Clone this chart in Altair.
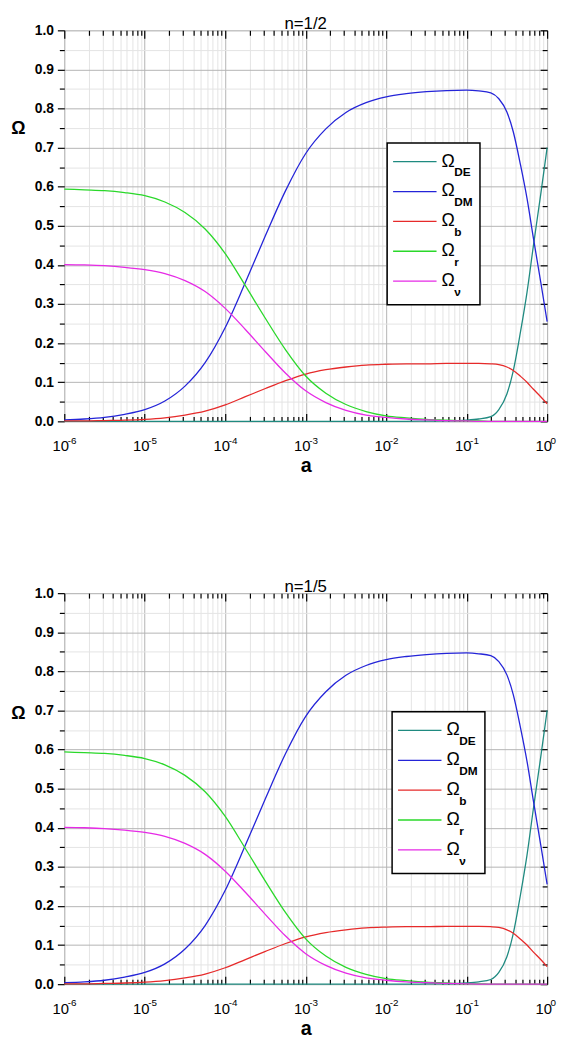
import altair as alt
import pandas as pd

# ---------------- data ----------------
log_a = [-6, -5.75, -5.5, -5.25, -5, -4.75, -4.5, -4.25, -4, -3.75, -3.5, -3.25,
         -3, -2.75, -2.5, -2.25, -2, -1.75, -1.5, -1.25, -1, -0.85, -0.7, -0.6,
         -0.5, -0.42, -0.33, -0.25, -0.17, -0.08, 0]
omega_de = [0, 0, 0, 0, 0, 0, 0, 0, 0, 0, 0, 0,
            0, 0, 0, 0, 0, 0, 0.0005, 0.001, 0.003, 0.006, 0.012, 0.030,
            0.070, 0.130, 0.230, 0.330, 0.450, 0.580, 0.700]
omega_dm = [0.004, 0.006, 0.010, 0.018, 0.030, 0.052, 0.090, 0.150, 0.240, 0.355, 0.475, 0.590,
            0.685, 0.748, 0.790, 0.815, 0.830, 0.838, 0.843, 0.846, 0.847, 0.845, 0.840, 0.825,
            0.791, 0.740, 0.655, 0.570, 0.468, 0.357, 0.255]
omega_b = [0.001, 0.001, 0.002, 0.003, 0.005, 0.009, 0.016, 0.026, 0.042, 0.063, 0.084, 0.104,
           0.121, 0.132, 0.139, 0.144, 0.146, 0.147, 0.147, 0.148, 0.148, 0.148, 0.147, 0.145,
           0.139, 0.130, 0.115, 0.100, 0.082, 0.063, 0.045]
omega_r = [0.594, 0.592, 0.590, 0.585, 0.577, 0.561, 0.534, 0.492, 0.429, 0.347, 0.263, 0.183,
           0.116, 0.072, 0.043, 0.025, 0.014, 0.009, 0.005, 0.003, 0.001, 0.001, 0, 0,
           0, 0, 0, 0, 0, 0, 0]
omega_nu = [0.401, 0.400, 0.398, 0.394, 0.388, 0.378, 0.360, 0.332, 0.289, 0.235, 0.178, 0.123,
            0.078, 0.048, 0.028, 0.016, 0.010, 0.006, 0.004, 0.002, 0.001, 0, 0, 0,
            0, 0, 0, 0, 0, 0, 0]

series_keys = ["DE", "DM", "b", "r", "nu"]
series_subs = ["DE", "DM", "b", "r", "\u03bd"]
series_colors = ["#1f8a80", "#2424d8", "#e62a2a", "#2ad82a", "#e62ae6"]

x_major = [1e-6, 1e-5, 1e-4, 1e-3, 1e-2, 1e-1, 1.0]
x_exp_labels = ["-6", "-5", "-4", "-3", "-2", "-1", "0"]
x_minor = [m * d for d in x_major[:-1] for m in range(2, 10)]
y_major = [0.0, 0.1, 0.2, 0.3, 0.4, 0.5, 0.6, 0.7, 0.8, 0.9, 1.0]
y_minor = [0.05, 0.15, 0.25, 0.35, 0.45, 0.55, 0.65, 0.75, 0.85, 0.95]

panel_titles = ["n=1/2", "n=1/5"]

# ---------------- tables ----------------
cols = {"DE": omega_de, "DM": omega_dm, "b": omega_b, "r": omega_r, "nu": omega_nu}
rows = []
for k in series_keys:
    for e, v in zip(log_a, cols[k]):
        rows.append({"series": k, "a": 10 ** e, "omega": v})
df = pd.DataFrame(rows)

leg_df = pd.DataFrame({"series": series_keys, "sub": series_subs,
                       "i": list(range(len(series_keys)))})

# ---------------- style ----------------
FONT = "Liberation Sans"
W, H = 489, 396
GRID_MAJOR = "#b4b4b4"
GRID_MINOR = "#e4e4e4"
xs = alt.Scale(type="log", domain=[x_major[0], x_major[-1]], nice=False)
ys = alt.Scale(domain=[y_major[0], y_major[-1]], nice=False, zero=False)
cscale = alt.Scale(domain=series_keys, range=series_colors)

exp_parts = [f"datum.value < {v * 3} ? '{lab}'" for v, lab in zip(x_major[:-1], x_exp_labels[:-1])]
exp_expr = " : ".join(exp_parts) + f" : '{x_exp_labels[-1]}'"

NOAX = dict(labels=False, domain=False, grid=False, title=None, minExtent=0)


def holder(xaxis, yaxis):
    return alt.Chart(df).mark_line(opacity=0).encode(
        x=alt.X("a:Q", scale=xs, axis=xaxis),
        y=alt.Y("omega:Q", scale=ys, axis=yaxis),
        detail="series:N",
    )


def panel(title, lx, ly, title_y):
    minor = holder(
        alt.Axis(orient="bottom", values=x_minor, grid=True, gridColor=GRID_MINOR, gridWidth=1,
                 ticks=False, labels=False, domain=False, title=None, minExtent=0),
        alt.Axis(orient="left", values=y_minor, grid=True, gridColor=GRID_MINOR, gridWidth=1,
                 ticks=True, tickSize=5, tickColor="black", tickWidth=1.2,
                 labels=False, domain=False, title=None, minExtent=0),
    )
    lines = alt.Chart(df).mark_line(strokeWidth=1.3, interpolate="monotone").encode(
        x=alt.X("a:Q", scale=xs, axis=alt.Axis(
            orient="bottom",
            values=x_major, labelExpr="'10'", labelFont=FONT, labelFontSize=15,
            labelColor="black", labelPadding=18, labelFlush=False, labelOverlap=False,
            labelAlign="center", labelOffset=-4, labelBaseline="top",
            ticks=False, tickSize=0, domain=False,
            grid=True, gridColor=GRID_MAJOR, gridWidth=1,
            title="a", titleFont=FONT, titleFontSize=20, titleFontWeight="bold",
            titleColor="black", titleY=51, titleBaseline="alphabetic")),
        y=alt.Y("omega:Q", scale=ys, axis=alt.Axis(
            orient="left",
            values=y_major, format=".1f", labelFont=FONT, labelFontSize=14,
            labelFontWeight="bold", labelColor="black", labelPadding=4,
            labelFlush=False, labelOverlap=False,
            ticks=True, tickSize=7, tickColor="black", tickWidth=1.2,
            domain=False, grid=True, gridColor=GRID_MAJOR, gridWidth=1,
            title="\u03a9", titleAngle=0, titleX=-47, titleY=title_y,
            titleAlign="center", titleBaseline="middle", titleFont=FONT,
            titleFontSize=18, titleFontWeight="bold", titleColor="black")),
        color=alt.Color("series:N", scale=cscale, legend=None),
    )
    top_major = holder(
        alt.Axis(orient="top", values=x_major, ticks=True, tickSize=8, offset=-8,
                 tickColor="black", tickWidth=1.2, **NOAX),
        alt.Axis(orient="right", values=y_major, ticks=True, tickSize=7, offset=-7,
                 tickColor="black", tickWidth=1.2, **NOAX),
    )
    top_minor = holder(
        alt.Axis(orient="top", values=x_minor, ticks=True, tickSize=5, offset=-5,
                 tickColor="black", tickWidth=1.2, **NOAX),
        alt.Axis(orient="right", values=y_minor, ticks=True, tickSize=5, offset=-5,
                 tickColor="black", tickWidth=1.2, **NOAX),
    )
    bot_major = holder(
        alt.Axis(orient="bottom", values=x_major, ticks=True, tickSize=8, offset=-8,
                 tickColor="black", tickWidth=1.2, **NOAX),
        None,
    )
    bot_minor = holder(
        alt.Axis(orient="bottom", values=x_minor, ticks=True, tickSize=5, offset=-5,
                 tickColor="black", tickWidth=1.2, **NOAX),
        None,
    )
    exps = holder(
        alt.Axis(orient="bottom", values=x_major, labelExpr=exp_expr, labelFont=FONT,
                 labelFontSize=10, labelColor="black", labelPadding=14,
                 labelFlush=False, labelOverlap=False, labelAlign="left", labelOffset=3,
                 labelBaseline="top", ticks=False, tickSize=0, domain=False,
                 grid=False, title=None, minExtent=0),
        None,
    )
    # legend (drawn box, samples and Omega texts)
    leg = alt.Chart(leg_df).transform_calculate(
        ly=f"{ly + 19} + datum.i * 30.25", ly2=f"{ly + 30} + datum.i * 30.25")
    box = leg.transform_filter("datum.i == 0").mark_rect(
        fill="white", stroke="black", strokeWidth=1.5).encode(
        x=alt.value(lx), x2=alt.value(lx + 94), y=alt.value(ly), y2=alt.value(ly + 164))
    samples = leg.mark_rule(strokeWidth=1.3).encode(
        x=alt.value(lx + 6), x2=alt.value(lx + 50),
        y=alt.Y("ly:Q", scale=None),
        color=alt.Color("series:N", scale=cscale, legend=None))
    omegas = leg.mark_text(text="\u03a9", align="left", baseline="middle", font=FONT,
                           fontSize=18, color="black").encode(
        x=alt.value(lx + 55), y=alt.Y("ly:Q", scale=None))
    subs = leg.mark_text(align="left", baseline="middle", font=FONT, fontSize=12,
                         fontWeight="bold", color="black").encode(
        x=alt.value(lx + 68), y=alt.Y("ly2:Q", scale=None), text="sub:N")

    return alt.layer(minor, lines, top_major, top_minor, bot_major, bot_minor, exps,
                     box, samples, omegas, subs).resolve_axis(
        x="independent", y="independent").properties(
        width=W, height=H,
        title=alt.Title(title, font=FONT, fontSize=17, fontWeight="normal",
                        color="black", anchor="middle", frame="group", offset=-10))


top = panel(panel_titles[0], 327, 114, 99)
bottom = panel(panel_titles[1], 332, 120, 122)

chart = alt.vconcat(top, bottom, spacing=102).properties(
    padding={"left": 2, "top": 0, "right": 0, "bottom": 0}
).configure_view(stroke="black", strokeWidth=1.5).configure(background="white")

chart.save("out.html", embed_options={"renderer": "svg", "actions": False})
